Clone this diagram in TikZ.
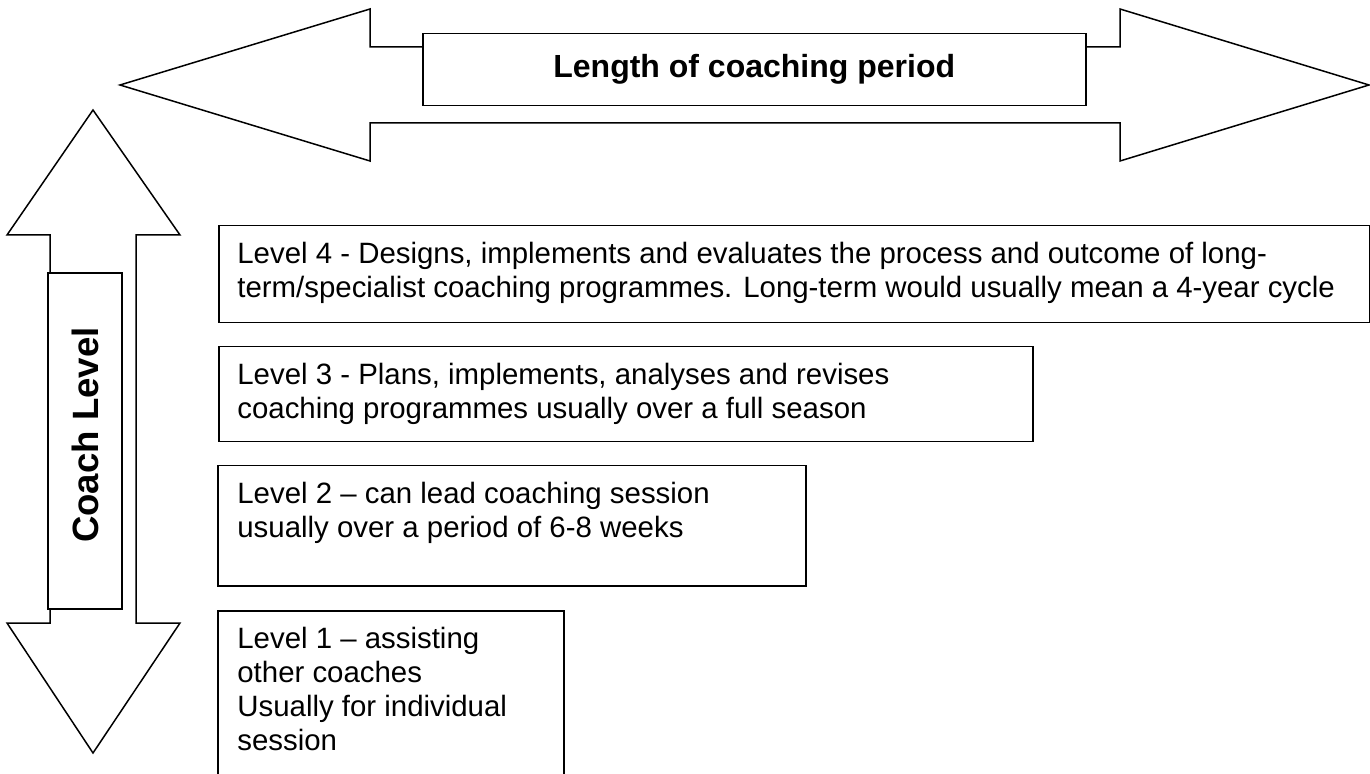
\documentclass[tikz,border=0pt]{standalone}
\usepackage{fontspec}
\setmainfont{Liberation Sans}
\begin{document}
\begin{tikzpicture}[x=0.5pt,y=0.5pt,yscale=-1,xscale=1,
    frame/.style={draw=black, fill=white, line width=0.75pt, line join=miter},
    titlebox/.style={draw=black, fill=white, line width=0.75pt, inner sep=0pt},
    levelbox/.style={draw=black, line width=0.75pt, inner sep=0pt, anchor=north west},
    leveltext/.style={anchor=north west, inner sep=0pt, align=left, font=\fontsize{14.7}{17}\selectfont}]
    \useasboundingbox (0,0) rectangle (1370,774);
    %Shape: Left-Right Arrow
    \draw [frame] (120,85) -- (370,9) -- (370,47) -- (1120,47) -- (1120,9) -- (1369,85) -- (1120,161) -- (1120,123) -- (370,123) -- (370,161) -- cycle ;
    %Shape: Up-Down Arrow
    \draw [frame] (93,110) -- (180,235) -- (136,235) -- (136,623) -- (180,623) -- (93,753) -- (7,623) -- (50,623) -- (50,235) -- (7,235) -- cycle ;
    
    % Text Node
    \node [titlebox, anchor=north west, minimum width=331.5pt, minimum height=36pt, font=\fontsize{16}{19}\selectfont\bfseries] (period) at (422,33) {Length of coaching period};
    % Text Node
    \node [titlebox, rotate=90, minimum width=168pt, minimum height=37pt, font=\fontsize{18.3}{21}\selectfont\bfseries] (coach) at (85,441) {};
    \node [rotate=90, inner sep=0pt, font=\fontsize{18.3}{21}\selectfont\bfseries] (coachlabel) at ([yshift=-3pt]coach.center) {Coach Level};
    
    %Shape: Rectangle
    \node [levelbox, minimum width=575.5pt, minimum height=48.5pt] (lvlfour) at (218,225) {};
    %Shape: Rectangle
    \node [levelbox, minimum width=407pt, minimum height=47.5pt] (lvlthree) at (218,346) {};
    %Shape: Rectangle
    \node [levelbox, minimum width=294pt, minimum height=60pt] (lvltwo) at (217,465) {};
    %Shape: Rectangle
    \node [levelbox, minimum width=173pt, minimum height=90pt] (lvlone) at (217,610) {};
    
    % Text Node
    \node [leveltext] (txtfour) at ([xshift=9.5pt,yshift=8.3pt]lvlfour.north west) {Level 4 - Designs, implements and evaluates the process and outcome of long-\\term/specialist coaching programmes. Long-term would usually mean a 4-year cycle};
    % Text Node
    \node [leveltext] (txtthree) at ([xshift=9.5pt,yshift=8.3pt]lvlthree.north west) {Level 3 - Plans, implements, analyses and revises\\coaching programmes usually over a full season};
    % Text Node
    \node [leveltext] (txttwo) at ([xshift=10pt,yshift=8.3pt]lvltwo.north west) {Level 2 -- can lead coaching session\\usually over a period of 6-8 weeks};
    % Text Node
    \node [leveltext] (txtone) at ([xshift=10pt,yshift=8.3pt]lvlone.north west) {Level 1 -- assisting\\other coaches\\Usually for individual\\session};
\end{tikzpicture}
\end{document}
